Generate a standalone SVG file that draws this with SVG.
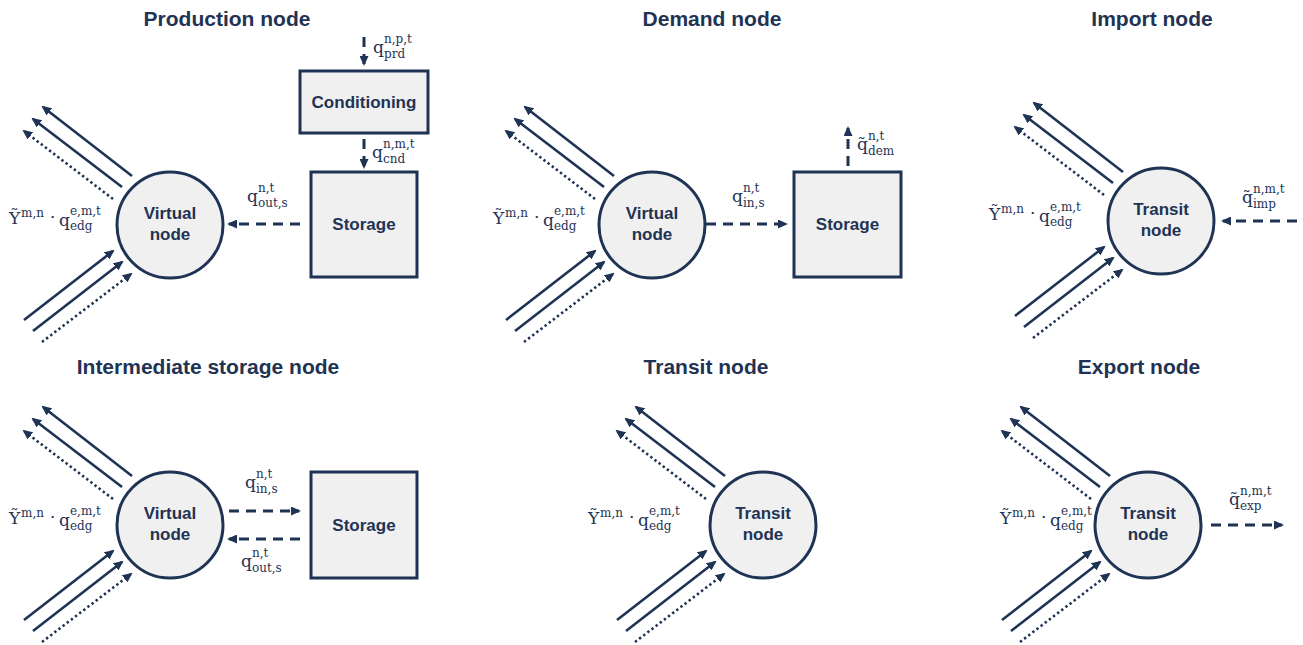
<svg xmlns="http://www.w3.org/2000/svg" xmlns:xlink="http://www.w3.org/1999/xlink" width="1303" height="645" viewBox="0 0 1303 645">
<style>
.title{font-family:"Liberation Sans",Arial,sans-serif;font-weight:700;font-size:21px;fill:#1F3354;text-anchor:middle}
.lbl{font-family:"Liberation Sans",Arial,sans-serif;font-weight:700;font-size:17px;fill:#1F3354;text-anchor:middle}
.m{font-family:"DejaVu Serif","Liberation Serif",serif;font-size:17px;fill:#1F3354}
.s{font-family:"DejaVu Serif","Liberation Serif",serif;font-size:12px;fill:#1F3354}
.node{fill:#F0F0F0;stroke:#1F3354;stroke-width:3}
.solid{fill:none;stroke:#1F3354;stroke-width:2.6;marker-end:url(#ah)}
.dot{fill:none;stroke:#1F3354;stroke-width:2.6;stroke-dasharray:2.4 2.8;marker-end:url(#ah)}
.dash{fill:none;stroke:#1F3354;stroke-width:3;stroke-dasharray:10 7;marker-end:url(#ah)}
</style>
<defs>
<marker id="ah" markerUnits="userSpaceOnUse" markerWidth="10" markerHeight="9" refX="8" refY="4.5" orient="auto">
<path d="M0,0 L10,4.5 L0,9 z" fill="#1F3354"/>
</marker>
<g id="edges">
<path class="solid" d="M-38,-49 L-127,-118"/>
<path class="solid" d="M-48,-38 L-137,-106"/>
<path class="dot" d="M-57,-26 L-146,-94"/>
<path class="solid" d="M-146,95 L-57,26"/>
<path class="solid" d="M-137,106 L-48,37"/>
<path class="dot" d="M-128,117 L-39,49"/>
</g>
</defs>
<rect width="1303" height="645" fill="#FFFFFF"/>

<g id="titles">
<text class="title" x="227" y="26">Production node</text>
<text class="title" x="712" y="26">Demand node</text>
<text class="title" x="1152" y="26">Import node</text>
<text class="title" x="208" y="374">Intermediate storage node</text>
<text class="title" x="706" y="374">Transit node</text>
<text class="title" x="1139" y="374">Export node</text>
</g>

<g id="connectors">
<use xlink:href="#edges" href="#edges" transform="translate(170,225)"/>
<use xlink:href="#edges" href="#edges" transform="translate(652,225)"/>
<use xlink:href="#edges" href="#edges" transform="translate(1161,221)"/>
<use xlink:href="#edges" href="#edges" transform="translate(170,525)"/>
<use xlink:href="#edges" href="#edges" transform="translate(763,525)"/>
<use xlink:href="#edges" href="#edges" transform="translate(1148,525)"/>
<path class="dash" d="M364,37 L364,64"/>
<path class="dash" d="M364,139 L364,167"/>
<path class="dash" d="M300,224 L229,224"/>
<path class="dash" d="M706,224 L786,224"/>
<path class="dash" d="M848,166 L848,128"/>
<path class="dash" d="M1297,221 L1223,221"/>
<path class="dash" d="M229,511 L299,511"/>
<path class="dash" d="M300,539 L229,539"/>
<path class="dash" d="M1211,525 L1282,525"/>
</g>

<g id="production-virtual">
<circle class="node" cx="170" cy="225" r="53"/>
<text class="lbl" x="170" y="219">Virtual</text>
<text class="lbl" x="170" y="240">node</text>
</g>
<g id="production-conditioning">
<rect class="node" x="300" y="71" width="128" height="62"/>
<text class="lbl" x="364" y="108">Conditioning</text>
</g>
<g id="production-storage">
<rect class="node" x="311" y="172" width="106" height="105"/>
<text class="lbl" x="364" y="230">Storage</text>
</g>

<g id="demand-virtual">
<circle class="node" cx="652" cy="225" r="53"/>
<text class="lbl" x="652" y="219">Virtual</text>
<text class="lbl" x="652" y="240">node</text>
</g>
<g id="demand-storage">
<rect class="node" x="794" y="172" width="107" height="105"/>
<text class="lbl" x="847.5" y="230">Storage</text>
</g>

<g id="import-transit">
<circle class="node" cx="1161" cy="221" r="53"/>
<text class="lbl" x="1161" y="215">Transit</text>
<text class="lbl" x="1161" y="236">node</text>
</g>

<g id="intermediate-virtual">
<circle class="node" cx="170" cy="525" r="53"/>
<text class="lbl" x="170" y="519">Virtual</text>
<text class="lbl" x="170" y="540">node</text>
</g>
<g id="intermediate-storage">
<rect class="node" x="311" y="472" width="106" height="106"/>
<text class="lbl" x="364" y="531">Storage</text>
</g>

<g id="transit-transit">
<circle class="node" cx="763" cy="525" r="53"/>
<text class="lbl" x="763" y="519">Transit</text>
<text class="lbl" x="763" y="540">node</text>
</g>

<g id="export-transit">
<circle class="node" cx="1148" cy="525" r="53"/>
<text class="lbl" x="1148" y="519">Transit</text>
<text class="lbl" x="1148" y="540">node</text>
</g>

<g id="labels">
<!-- edge labels -->
<g transform="translate(9,224)">
<text class="m" x="0" y="0">Ỹ</text><text class="s" x="12" y="-7">m,n</text>
<text class="m" x="41" y="-1">·</text>
<text class="m" x="50" y="2">q</text><text class="s" x="61" y="-9">e,m,t</text><text class="s" x="61" y="6">edg</text>
</g>
<g transform="translate(493,224)">
<text class="m" x="0" y="0">Ỹ</text><text class="s" x="12" y="-7">m,n</text>
<text class="m" x="41" y="-1">·</text>
<text class="m" x="50" y="2">q</text><text class="s" x="61" y="-9">e,m,t</text><text class="s" x="61" y="6">edg</text>
</g>
<g transform="translate(989,220)">
<text class="m" x="0" y="0">Ỹ</text><text class="s" x="12" y="-7">m,n</text>
<text class="m" x="41" y="-1">·</text>
<text class="m" x="50" y="2">q</text><text class="s" x="61" y="-9">e,m,t</text><text class="s" x="61" y="6">edg</text>
</g>
<g transform="translate(9,524)">
<text class="m" x="0" y="0">Ỹ</text><text class="s" x="12" y="-7">m,n</text>
<text class="m" x="41" y="-1">·</text>
<text class="m" x="50" y="2">q</text><text class="s" x="61" y="-9">e,m,t</text><text class="s" x="61" y="6">edg</text>
</g>
<g transform="translate(588,524)">
<text class="m" x="0" y="0">Ỹ</text><text class="s" x="12" y="-7">m,n</text>
<text class="m" x="41" y="-1">·</text>
<text class="m" x="50" y="2">q</text><text class="s" x="61" y="-9">e,m,t</text><text class="s" x="61" y="6">edg</text>
</g>
<g transform="translate(1000,524)">
<text class="m" x="0" y="0">Ỹ</text><text class="s" x="12" y="-7">m,n</text>
<text class="m" x="41" y="-1">·</text>
<text class="m" x="50" y="2">q</text><text class="s" x="61" y="-9">e,m,t</text><text class="s" x="61" y="6">edg</text>
</g>
<!-- flow labels -->
<text class="m" x="373" y="53">q</text><text class="s" x="384" y="43">n,p,t</text><text class="s" x="384" y="58">prd</text>
<text class="m" x="372" y="158">q</text><text class="s" x="383" y="148">n,m,t</text><text class="s" x="383" y="163">cnd</text>
<text class="m" x="247" y="202">q</text><text class="s" x="258" y="192">n,t</text><text class="s" x="258" y="207">out,s</text>
<text class="m" x="732" y="202">q</text><text class="s" x="743" y="192">n,t</text><text class="s" x="743" y="207">in,s</text>
<text class="m" x="857" y="150">q̃</text><text class="s" x="868" y="140">n,t</text><text class="s" x="868" y="155">dem</text>
<text class="m" x="1242" y="203">q̃</text><text class="s" x="1253" y="193">n,m,t</text><text class="s" x="1253" y="208">imp</text>
<text class="m" x="245" y="488">q</text><text class="s" x="256" y="478">n,t</text><text class="s" x="256" y="493">in,s</text>
<text class="m" x="241" y="567">q</text><text class="s" x="252" y="557">n,t</text><text class="s" x="252" y="572">out,s</text>
<text class="m" x="1229" y="505">q̃</text><text class="s" x="1240" y="495">n,m,t</text><text class="s" x="1240" y="510">exp</text>
</g>
</svg>
